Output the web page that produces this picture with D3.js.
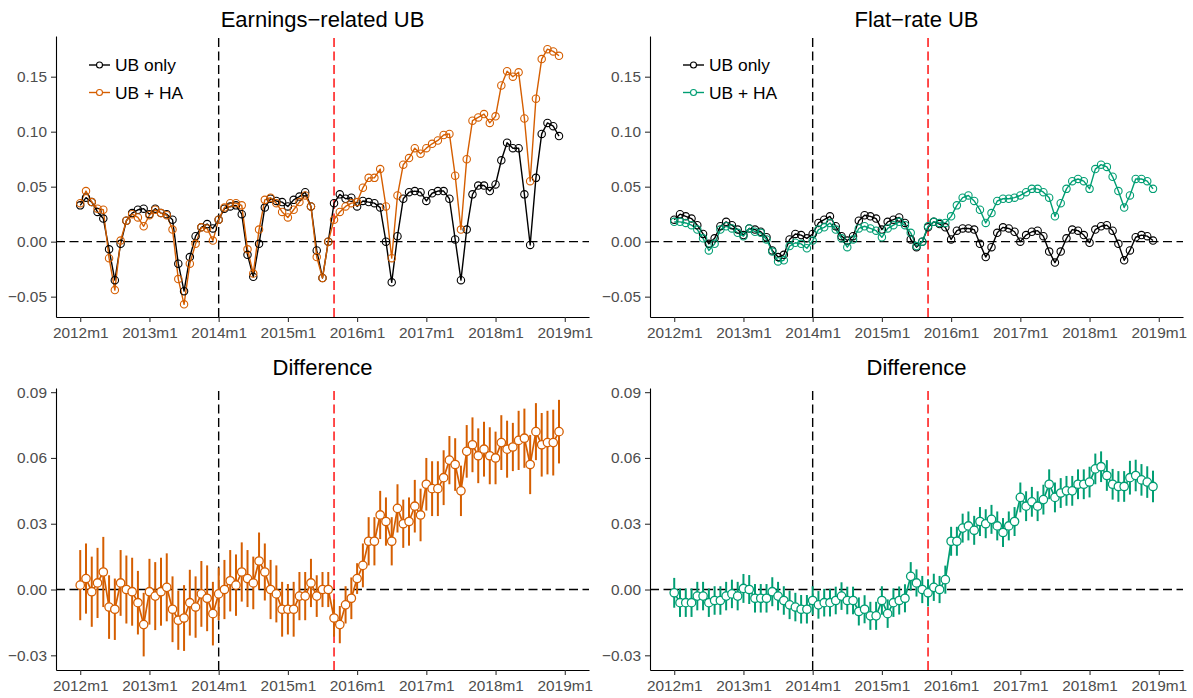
<!DOCTYPE html>
<html>
<head>
<meta charset="utf-8">
<script src="https://cdn.jsdelivr.net/npm/d3@7"></script>
<style>
  body { margin: 0; background: #fff; }
  svg { display: block; font-family: "Liberation Sans", Arial, Helvetica, sans-serif; }
</style>
</head>
<body>
<svg id="chart" width="1193" height="698"></svg>
<script>
// ---- data: monthly estimates, 2012m1 .. 2018m12 (index 0 = 2012m1) ----
const tickLabels = ["2012m1", "2013m1", "2014m1", "2015m1", "2016m1", "2017m1", "2018m1", "2019m1"];
const seriesNames = ["UB only", "UB + HA"];

const ubOnlyEarnings = [
  0.033, 0.040, 0.036, 0.027, 0.021, -0.007, -0.035, -0.002, 0.019, 0.026, 0.029, 0.030,
  0.025, 0.030, 0.026, 0.025, 0.020, -0.020, -0.045, -0.014, 0.005, 0.013, 0.016, 0.012,
  0.020, 0.030, 0.032, 0.033, 0.025, -0.012, -0.032, -0.002, 0.031, 0.039, 0.037, 0.036,
  0.032, 0.038, 0.041, 0.045, 0.032, -0.008, -0.033, 0.000, 0.035, 0.043, 0.039, 0.040,
  0.032, 0.037, 0.036, 0.035, 0.031, 0.000, -0.037, 0.005, 0.039, 0.045, 0.046, 0.045,
  0.037, 0.044, 0.046, 0.046, 0.039, 0.002, -0.035, 0.011, 0.043, 0.051, 0.051, 0.046,
  0.052, 0.074, 0.090, 0.085, 0.085, 0.043, -0.003, 0.058, 0.098, 0.108, 0.105, 0.096
];
const ubHaEarnings = [
  0.035, 0.046, 0.036, 0.030, 0.029, -0.015, -0.044, 0.001, 0.019, 0.025, 0.022, 0.014,
  0.024, 0.029, 0.026, 0.024, 0.011, -0.034, -0.057, -0.020, -0.002, 0.013, 0.012, 0.001,
  0.020, 0.031, 0.035, 0.035, 0.033, -0.007, -0.029, 0.011, 0.038, 0.040, 0.035, 0.027,
  0.022, 0.029, 0.036, 0.042, 0.032, -0.014, -0.033, 0.000, 0.020, 0.027, 0.032, 0.035,
  0.036, 0.049, 0.058, 0.058, 0.066, 0.032, -0.015, 0.042, 0.070, 0.076, 0.085, 0.080,
  0.085, 0.089, 0.092, 0.097, 0.098, 0.060, 0.011, 0.075, 0.110, 0.113, 0.116, 0.108,
  0.114, 0.142, 0.155, 0.150, 0.154, 0.112, 0.055, 0.130, 0.166, 0.175, 0.173, 0.169
];
const ubOnlyFlat = [
  0.020, 0.025, 0.023, 0.021, 0.015, 0.007, -0.002, 0.003, 0.014, 0.018, 0.015, 0.011,
  0.006, 0.012, 0.011, 0.009, 0.004, -0.008, -0.014, -0.012, 0.002, 0.007, 0.006, 0.003,
  0.007, 0.017, 0.020, 0.023, 0.014, 0.005, 0.001, 0.005, 0.019, 0.024, 0.023, 0.021,
  0.011, 0.018, 0.020, 0.022, 0.017, 0.002, -0.005, 0.000, 0.013, 0.018, 0.016, 0.013,
  0.002, 0.010, 0.012, 0.012, 0.011, -0.002, -0.014, -0.005, 0.008, 0.013, 0.012, 0.009,
  0.000, 0.006, 0.009, 0.010, 0.005, -0.009, -0.019, -0.009, 0.003, 0.011, 0.010, 0.006,
  -0.001, 0.011, 0.014, 0.015, 0.010, -0.002, -0.017, -0.008, 0.004, 0.006, 0.005, 0.001
];
const ubHaFlat = [
  0.018, 0.018, 0.017, 0.015, 0.011, 0.003, -0.008, -0.002, 0.011, 0.014, 0.012, 0.008,
  0.005, 0.012, 0.009, 0.008, 0.002, -0.009, -0.018, -0.017, -0.004, -0.001, -0.002, -0.006,
  0.001, 0.011, 0.013, 0.017, 0.011, 0.003, -0.005, 0.002, 0.012, 0.014, 0.012, 0.010,
  0.004, 0.012, 0.015, 0.018, 0.015, 0.008, -0.004, 0.000, 0.014, 0.018, 0.017, 0.017,
  0.023, 0.033, 0.040, 0.042, 0.037, 0.029, 0.017, 0.026, 0.037, 0.039, 0.039, 0.040,
  0.042, 0.045, 0.048, 0.048, 0.045, 0.040, 0.023, 0.035, 0.048, 0.055, 0.057, 0.055,
  0.048, 0.066, 0.070, 0.068, 0.059, 0.046, 0.031, 0.042, 0.057, 0.057, 0.055, 0.048
];

// difference estimates and 95% CI half-widths
const diffEarnings = [
  0.002, 0.005, -0.001, 0.003, 0.008, -0.008, -0.009, 0.003, 0.000, -0.001, -0.006, -0.016,
  -0.001, -0.003, -0.001, 0.001, -0.009, -0.014, -0.013, -0.006, -0.008, -0.002, -0.004, -0.011,
  -0.002, 0.000, 0.004, 0.002, 0.008, 0.005, 0.003, 0.013, 0.008, 0.000, -0.002, -0.009,
  -0.009, -0.009, -0.003, -0.003, 0.003, -0.003, 0.000, 0.000, -0.013, -0.016, -0.007, -0.004,
  0.005, 0.011, 0.022, 0.022, 0.034, 0.031, 0.022, 0.037, 0.030, 0.031, 0.038, 0.034,
  0.048, 0.046, 0.046, 0.051, 0.059, 0.057, 0.045, 0.063, 0.066, 0.061, 0.064, 0.061,
  0.060, 0.067, 0.064, 0.065, 0.068, 0.069, 0.057, 0.072, 0.066, 0.067, 0.067, 0.072
];
const ciEarnings = [
  0.016, 0.016, 0.016, 0.016, 0.016, 0.0145, 0.014, 0.015, 0.0155, 0.0155, 0.0145, 0.0145,
  0.015, 0.0155, 0.0155, 0.0155, 0.015, 0.0135, 0.015, 0.015, 0.014, 0.015, 0.015, 0.0145,
  0.012, 0.0135, 0.014, 0.014, 0.0135, 0.013, 0.012, 0.013, 0.013, 0.0135, 0.013, 0.0125,
  0.0115, 0.0125, 0.011, 0.011, 0.011, 0.0095, 0.008, 0.008, 0.0085, 0.0085, 0.0085, 0.0095,
  0.007, 0.010, 0.011, 0.011, 0.011, 0.011, 0.011, 0.011, 0.011, 0.011, 0.012, 0.012,
  0.012, 0.0125, 0.0125, 0.0125, 0.011, 0.012, 0.0115, 0.012, 0.0125, 0.0125, 0.0125, 0.013,
  0.012, 0.0125, 0.013, 0.011, 0.0135, 0.0135, 0.0135, 0.013, 0.0145, 0.0145, 0.015, 0.0145
];
const diffFlat = [
  -0.0015, -0.006, -0.006, -0.006, -0.003, -0.003, -0.006, -0.005, -0.005, -0.003, -0.002, -0.003,
  0.0005, 0.000, -0.004, -0.004, -0.004, -0.001, -0.003, -0.005, -0.007, -0.008, -0.009, -0.009,
  -0.005, -0.007, -0.006, -0.006, -0.005, -0.003, -0.005, -0.005, -0.010, -0.009, -0.012, -0.012,
  -0.005, -0.011, -0.006, -0.005, -0.004, 0.006, 0.003, 0.000, -0.0015, 0.001, 0.000, 0.0045,
  0.022, 0.022, 0.028, 0.029, 0.027, 0.031, 0.030, 0.032, 0.029, 0.026, 0.029, 0.031,
  0.042, 0.038, 0.040, 0.038, 0.041, 0.048, 0.042, 0.044, 0.045, 0.045, 0.048, 0.048,
  0.049, 0.055, 0.056, 0.052, 0.048, 0.047, 0.047, 0.051, 0.052, 0.050, 0.049, 0.047
];
const ciFlat = [
  0.0068, 0.0065, 0.0065, 0.0065, 0.0065, 0.0065, 0.0065, 0.0065, 0.0065, 0.0065, 0.0065, 0.0065,
  0.0066, 0.0066, 0.0065, 0.0065, 0.0065, 0.0066, 0.0065, 0.0065, 0.0065, 0.0065, 0.0065, 0.0065,
  0.0065, 0.0063, 0.0063, 0.0063, 0.0063, 0.0063, 0.0063, 0.0063, 0.0064, 0.0064, 0.0064, 0.0064,
  0.0065, 0.0065, 0.0065, 0.0064, 0.0064, 0.0065, 0.0062, 0.0062, 0.0062, 0.0062, 0.0062, 0.0064,
  0.0066, 0.0066, 0.0066, 0.0066, 0.0066, 0.0066, 0.0066, 0.0066, 0.0066, 0.0066, 0.0066, 0.0066,
  0.0068, 0.0068, 0.0068, 0.0068, 0.0068, 0.0068, 0.0068, 0.0068, 0.0068, 0.0068, 0.0068, 0.0068,
  0.0070, 0.0070, 0.0070, 0.0070, 0.0070, 0.0070, 0.0070, 0.0077, 0.0072, 0.0072, 0.0072, 0.0072
];

// reference dates (month index): start of 2014 and 2015m9
const eventLines = [{ month: 24, color: "#000000" }, { month: 44, color: "#FF0000" }];

const levelTicks = [-0.05, 0.00, 0.05, 0.10, 0.15];
const diffTicks = [-0.03, 0.00, 0.03, 0.06, 0.09];

// ---- layout ----
const ORANGE = "#D55E00", GREEN = "#009E73";
const svg = d3.select("#chart");
const xDomain = [-4.2, 88.2];
const cols = [[56, 589], [650, 1183]];
const rows = {
  top: { range: [317, 36], domain: [-0.0685, 0.187], ticks: levelTicks, titleY: 27 },
  bottom: { range: [670, 388], domain: [-0.0367, 0.0919], ticks: diffTicks, titleY: 375 }
};

function makePanel(colIdx, row, title) {
  const x = d3.scaleLinear().domain(xDomain).range(cols[colIdx]);
  const y = d3.scaleLinear().domain(row.domain).range(row.range);
  const g = svg.append("g");

  // title
  g.append("text")
    .attr("x", (cols[colIdx][0] + cols[colIdx][1]) / 2)
    .attr("y", row.titleY)
    .attr("text-anchor", "middle")
    .attr("font-size", 22)
    .attr("fill", "#000")
    .text(title);

  // reference lines
  g.append("line")
    .attr("x1", x.range()[0]).attr("x2", x.range()[1])
    .attr("y1", y(0)).attr("y2", y(0))
    .attr("stroke", "#000").attr("stroke-width", 1.4)
    .attr("stroke-dasharray", "9,4.5");
  eventLines.forEach(ev => {
    g.append("line")
      .attr("x1", x(ev.month)).attr("x2", x(ev.month))
      .attr("y1", y.range()[0]).attr("y2", y.range()[1])
      .attr("stroke", ev.color).attr("stroke-width", 1.4)
      .attr("stroke-dasharray", "9,4.5");
  });

  // axes
  const xAxis = d3.axisBottom(x)
    .tickValues(d3.range(0, 85, 12))
    .tickFormat((d, i) => tickLabels[i])
    .tickSize(5).tickSizeOuter(0).tickPadding(5);
  const yAxis = d3.axisLeft(y)
    .tickValues(row.ticks)
    .tickFormat(d3.format(".2f"))
    .tickSize(5).tickSizeOuter(0).tickPadding(4);

  const gx = g.append("g").attr("transform", `translate(0,${y.range()[0]})`).call(xAxis);
  const gy = g.append("g").attr("transform", `translate(${x.range()[0]},0)`).call(yAxis);
  [gx, gy].forEach(ax => {
    ax.select(".domain").attr("stroke", "#000").attr("stroke-width", 1.1);
    ax.selectAll(".tick line").attr("stroke", "#333").attr("stroke-width", 1.1);
    ax.selectAll(".tick text").attr("fill", "#4D4D4D").attr("font-size", 15.4)
      .attr("font-family", "\"Liberation Sans\", Arial, sans-serif");
  });

  return { g, x, y };
}

function drawLevels(colIdx, title, base, treated, color) {
  const { g, x, y } = makePanel(colIdx, rows.top, title);
  const line = d3.line().x((d, i) => x(i)).y(d => y(d));
  const series = [{ values: base, color: "#000" }, { values: treated, color: color }];

  series.forEach(s => {
    g.append("path").datum(s.values)
      .attr("d", line).attr("fill", "none")
      .attr("stroke", s.color).attr("stroke-width", 1.4)
      .attr("stroke-linejoin", "round");
  });
  series.forEach(s => {
    g.append("g").selectAll("circle").data(s.values).join("circle")
      .attr("cx", (d, i) => x(i)).attr("cy", d => y(d)).attr("r", 3.7)
      .attr("fill", "none").attr("stroke", s.color).attr("stroke-width", 1.1);
  });

  // legend
  const lx = x.range()[0] + 33;
  series.forEach((s, k) => {
    const ly = 65 + k * 27.5;
    g.append("line").attr("x1", lx).attr("x2", lx + 21).attr("y1", ly).attr("y2", ly)
      .attr("stroke", s.color).attr("stroke-width", 1.4);
    g.append("circle").attr("cx", lx + 10.5).attr("cy", ly).attr("r", 3)
      .attr("fill", "#fff").attr("stroke", s.color).attr("stroke-width", 1.1);
    g.append("text").attr("x", lx + 26).attr("y", ly).attr("dy", "0.35em")
      .attr("font-size", 17.4).attr("fill", "#000").text(seriesNames[k]);
  });
}

function drawDifference(colIdx, est, ci, color) {
  const { g, x, y } = makePanel(colIdx, rows.bottom, "Difference");
  g.append("g").selectAll("line").data(est).join("line")
    .attr("x1", (d, i) => x(i)).attr("x2", (d, i) => x(i))
    .attr("y1", (d, i) => y(d - ci[i])).attr("y2", (d, i) => y(d + ci[i]))
    .attr("stroke", color).attr("stroke-width", 2);
  g.append("path").datum(est)
    .attr("d", d3.line().x((d, i) => x(i)).y(d => y(d)))
    .attr("fill", "none").attr("stroke", color).attr("stroke-width", 1.7)
    .attr("stroke-linejoin", "round");
  g.append("g").selectAll("circle").data(est).join("circle")
    .attr("cx", (d, i) => x(i)).attr("cy", d => y(d)).attr("r", 4.2)
    .attr("fill", "#fff").attr("stroke", color).attr("stroke-width", 1.3);
}

drawLevels(0, "Earnings\u2212related UB", ubOnlyEarnings, ubHaEarnings, ORANGE);
drawLevels(1, "Flat\u2212rate UB", ubOnlyFlat, ubHaFlat, GREEN);
drawDifference(0, diffEarnings, ciEarnings, ORANGE);
drawDifference(1, diffFlat, ciFlat, GREEN);
</script>
</body>
</html>
